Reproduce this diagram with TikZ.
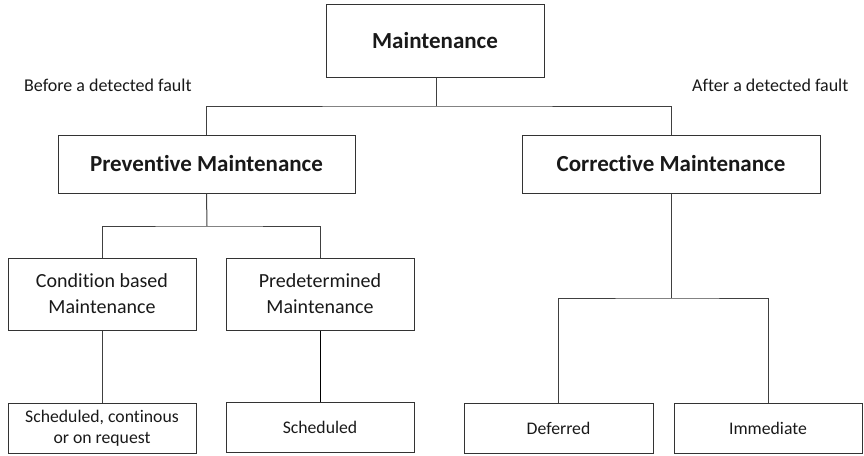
\documentclass[tikz,border=0pt]{standalone}
\usepackage{fontspec}
\setmainfont[Ligatures=NoCommon]{Carlito}
\begin{document}
\begin{tikzpicture}[x=1pt,y=-1pt,
  box/.style={draw=black!80,line width=1pt,inner sep=0pt,align=center,text=black!90},
  bigbox/.style={box,font=\fontsize{23}{27}\selectfont\bfseries},
  smallbox/.style={box,font=\fontsize{20}{26}\selectfont},
  leafbox/.style={box,font=\fontsize{17.7}{21}\selectfont},
  lbl/.style={font=\fontsize{18}{20}\selectfont,inner sep=0pt,anchor=west,text=black!90},
  link/.style={draw=black!75,line width=1pt}]
\useasboundingbox (0,0) rectangle (864,455);
\node[bigbox,minimum width=218pt,minimum height=73pt] (m) at (435,40.5) {Maintenance};
\node[bigbox,minimum width=297pt,minimum height=58pt] (pm) at (206.5,164) {Preventive Maintenance};
\node[bigbox,minimum width=298pt,minimum height=58pt] (cm) at (671,164) {Corrective Maintenance};
\node[smallbox,minimum width=188pt,minimum height=72pt] (cb) at (102,294) {Condition based\\Maintenance};
\node[smallbox,minimum width=188pt,minimum height=72pt] (pd) at (320,294) {Predetermined\\Maintenance};
\node[leafbox,minimum width=188pt,minimum height=50pt] (sc) at (102,428) {Scheduled, continous\\or on request};
\node[leafbox,minimum width=188pt,minimum height=50pt] (s) at (320,427) {Scheduled};
\node[leafbox,minimum width=189pt,minimum height=50pt] (d) at (558.5,428) {Deferred};
\node[leafbox,minimum width=188pt,minimum height=50pt] (i) at (768,428) {Immediate};
\node[lbl] (bf) at (24,85) {Before a detected fault};
\node[lbl] (af) at (692,85) {After a detected fault};
\coordinate (j1) at (436,106);
\coordinate (j2) at (207,226);
\coordinate (j3) at (671,298);
\draw[link] (m.south -| j1) -- (j1);
\draw[link] (pm.north) |- (j1) -| (cm.north);
\draw[link] (pm.south) -- (j2);
\draw[link] (cb.north) |- (j2) -| (pd.north);
\draw[link] (cb.south) -- (sc.north);
\draw[link,draw=black] (pd.south) -- (s.north);
\draw[link] (cm.south) -- (j3);
\draw[link] (d.north) |- (j3) -| (i.north);
\end{tikzpicture}
\end{document}
